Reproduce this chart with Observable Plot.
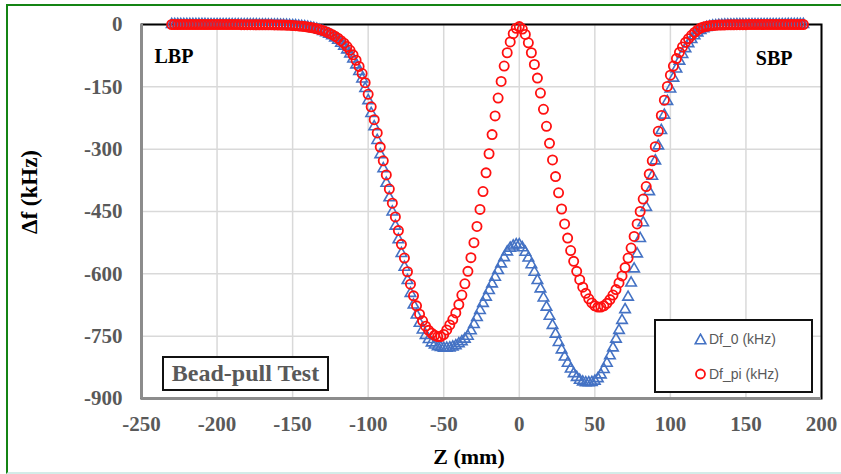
<!DOCTYPE html>
<html><head><meta charset="utf-8">
<script src="https://cdn.jsdelivr.net/npm/d3@7"></script>
<script src="https://cdn.jsdelivr.net/npm/@observablehq/plot@0.6"></script>
<style>
html,body{margin:0;padding:0;background:#fff;}
#wrap{position:relative;width:841px;height:474px;overflow:hidden;background:#fff;}
#frameBox{position:absolute;left:6px;top:4px;width:850px;height:466px;border-left:2.5px solid #148414;border-top:2.5px solid #148414;border-bottom:2px solid #d3ece8;pointer-events:none;}
#chart{position:absolute;left:0;top:0;}
.lbl{position:absolute;font-family:"Liberation Serif","Times New Roman",serif;font-weight:bold;white-space:nowrap;color:#000;}
#ylab{left:30px;top:192px;font-size:23px;transform:translate(-50%,-50%) rotate(-90deg);}
#xlab{left:469px;top:457px;font-size:22px;transform:translate(-50%,-50%);}
#bead{position:absolute;left:162px;top:356px;width:163px;height:31px;border:2px solid #111;background:#fff;font-family:"Liberation Serif",serif;font-weight:bold;font-size:24px;color:#595959;text-align:center;line-height:31px;white-space:nowrap;}
#legend{position:absolute;left:654px;top:319px;width:155px;height:70px;border:2px solid #111;background:#fff;font-family:"Liberation Sans",Arial,sans-serif;font-size:14px;color:#595959;}
.item{position:absolute;left:38px;display:flex;align-items:center;white-space:nowrap;}
.item svg{margin-right:2px;}
</style>
</head><body>
<div id="wrap">
  <div id="chart"></div>
  <div id="frameBox"></div>
  <div class="lbl" id="ylab">Δf (kHz)</div>
  <div class="lbl" id="xlab">Z (mm)</div>
  <div id="bead">Bead-pull Test</div>
  <div id="legend">
    <div class="item" style="top:10px"><svg width="13" height="12"><path d="M6.5,1.2 L11.8,10.8 L1.2,10.8 Z" fill="none" stroke="#4472C4" stroke-width="1.6"/></svg>Df_0 (kHz)</div>
    <div class="item" style="top:45px"><svg width="13" height="12"><circle cx="6.5" cy="6" r="4.5" fill="none" stroke="#FF1010" stroke-width="1.8"/></svg>Df_pi (kHz)</div>
  </div>
</div>
<script>
// Axis ticks
const xTicks = [-250, -200, -150, -100, -50, 0, 50, 100, 150, 200];
const yTicks = [0, -150, -300, -450, -600, -750, -900];

// Bead position Z (mm)
const zPos = [-230,-228,-226,-224,-222,-220,-218,-216,-214,-212,-210,-208,-206,-204,-202,-200,-198,-196,-194,-192,
-190,-188,-186,-184,-182,-180,-178,-176,-174,-172,-170,-168,-166,-164,-162,-160,-158,-156,-154,-152,
-150,-148,-146,-144,-142,-140,-138,-136,-134,-132,-130,-128,-126,-124,-122,-120,-118,-116,-114,-112,
-110,-108,-106,-104,-102,-100,-98,-96,-94,-92,-90,-88,-86,-84,-82,-80,-78,-76,-74,-72,
-70,-68,-66,-64,-62,-60,-58,-56,-54,-52,-50,-48,-46,-44,-42,-40,-38,-36,-34,-32,
-30,-28,-26,-24,-22,-20,-18,-16,-14,-12,-10,-8,-6,-4,-2,0,2,4,6,8,
10,12,14,16,18,20,22,24,26,28,30,32,34,36,38,40,42,44,46,48,
50,52,54,56,58,60,62,64,66,68,70,72,74,76,78,80,82,84,86,88,
90,92,94,96,98,100,102,104,106,108,110,112,114,116,118,120,122,124,126,128,
130,132,134,136,138,140,142,144,146,148,150,152,154,156,158,160,162,164,166,168,
170,172,174,176,178,180,182,184,186,188];

// Df_0 (kHz)
const df0 = [0,0,0,0,0,0,0,0,0,0,0,0,-0.1,-0.1,-0.1,-0.1,-0.2,-0.2,-0.2,-0.2,
-0.3,-0.3,-0.4,-0.4,-0.4,-0.5,-0.5,-0.6,-0.6,-0.7,-0.8,-0.8,-0.9,-1.0,-1.1,-1.2,-1.3,-1.5,-1.8,-2.2,
-2.6,-3.1,-3.8,-4.6,-5.5,-6.6,-8.0,-9.6,-11.5,-13.8,-16.4,-19.5,-23,-27,-32,-38,-45,-52,-61,-71,
-83,-97,-113,-131,-154,-183,-214,-246,-279,-313,-347,-382,-417,-451,-485,-518,-551,-584,-616,-647,
-675,-699,-719,-735,-748,-758,-766,-771,-775,-777,-779,-779,-778,-776,-773,-768,-763,-757,-750,-737,
-722,-705,-688,-671,-656,-640,-624,-608,-592,-576,-561,-547,-538,-533,-530,-530,-537,-548,-562,-578,
-596,-616,-636,-658,-680,-702,-724,-745,-765,-783,-800,-815,-829,-840,-849,-856,-860,-862,-862,-861,
-858,-852,-843,-830,-815,-797,-778,-757,-736,-712,-686,-656,-622,-588,-552,-515,-477,-440,-402,-365,
-328,-292,-255,-218,-185,-155,-129,-107,-88,-72,-58,-46,-36,-27,-20,-14,-10,-7,-5,-3.6,
-2.7,-2.0,-1.5,-1.2,-1.0,-0.8,-0.7,-0.6,-0.5,-0.5,-0.4,-0.4,-0.3,-0.3,-0.3,-0.2,-0.2,-0.2,-0.2,-0.1,
-0.1,-0.1,-0.1,-0.1,0,0,0,0,0,0];

// Df_pi (kHz)
const dfPi = [0,0,0,0,0,0,0,0,0,0,0,0,-0.1,-0.1,-0.1,-0.1,-0.2,-0.2,-0.2,-0.2,
-0.3,-0.3,-0.3,-0.4,-0.4,-0.4,-0.5,-0.5,-0.6,-0.6,-0.7,-0.8,-0.8,-0.9,-1.0,-1.1,-1.2,-1.4,-1.7,-2.0,
-2.4,-2.9,-3.5,-4.2,-5.0,-6.0,-7.2,-8.6,-10.3,-12.3,-14.6,-17.3,-20.5,-24,-28,-33,-39,-45,-53,-62,
-73,-86,-101,-118,-140,-168,-198,-229,-261,-295,-328,-362,-396,-430,-463,-496,-529,-562,-595,-625,
-653,-677,-697,-713,-726,-736,-743,-748,-751,-751,-746,-735,-723,-710,-694,-674,-651,-624,-594,-561,
-525,-486,-445,-402,-357,-311,-265,-220,-177,-137,-100,-68,-42,-22,-9,-5,-11,-24,-44,-68,
-96,-129,-165,-204,-245,-286,-326,-366,-405,-444,-480,-514,-544,-570,-594,-614,-632,-647,-660,-670,
-677,-680,-680,-677,-671,-662,-651,-638,-622,-605,-585,-562,-538,-510,-480,-450,-420,-390,-360,-328,
-294,-257,-219,-182,-149,-122,-100,-82,-67,-54,-43,-34,-26,-19,-13,-8.5,-5.8,-4.2,-3.1,-2.4,
-1.9,-1.5,-1.2,-1.0,-0.8,-0.7,-0.6,-0.5,-0.5,-0.4,-0.4,-0.3,-0.3,-0.3,-0.2,-0.2,-0.2,-0.2,-0.1,-0.1,
-0.1,-0.1,-0.1,0,0,0,0,0,0,0];

const blueRows = zPos.map((z, i) => ({z, v: df0[i]}));
const redRows = zPos.map((z, i) => ({z, v: dfPi[i]}));

const serif = "Liberation Serif, Times New Roman, serif";
const fmt = d => String(d);

const chart = Plot.plot({
  width: 841,
  height: 474,
  marginLeft: 141,
  marginRight: 20,
  marginTop: 24,
  marginBottom: 76,
  style: {background: "transparent", overflow: "visible"},
  x: {domain: [xTicks[0], xTicks[xTicks.length - 1]]},
  y: {domain: [yTicks[yTicks.length - 1], yTicks[0]]},
  marks: [
    Plot.gridX(xTicks, {stroke: "#d9d9d9", strokeOpacity: 1, strokeWidth: 1.5}),
    Plot.gridY(yTicks, {stroke: "#d9d9d9", strokeOpacity: 1, strokeWidth: 1.5}),
    Plot.frame({stroke: "#000", strokeWidth: 2}),
    Plot.ruleX([xTicks[0]], {stroke: "#8c8c8c", strokeWidth: 3}),
    Plot.ruleY([yTicks[yTicks.length - 1]], {stroke: "#8c8c8c", strokeWidth: 3}),
    Plot.axisX(xTicks, {tickSize: 0, tickPadding: 18, tickFormat: fmt, label: null,
      fontSize: 21, fontWeight: "bold", fontFamily: serif, color: "#595959"}),
    Plot.axisY(yTicks, {tickSize: 0, tickPadding: 19, tickFormat: fmt, label: null,
      fontSize: 21, fontWeight: "bold", fontFamily: serif, color: "#595959"}),
    Plot.dot(blueRows, {x: "z", y: "v", symbol: "triangle", r: 3.9, fill: "none",
      stroke: "#4472C4", strokeWidth: 1.6}),
    Plot.dot(redRows, {x: "z", y: "v", symbol: "circle", r: 4.6, fill: "none",
      stroke: "#FF1010", strokeWidth: 1.8}),
    Plot.text(["LBP"], {frameAnchor: "top-left", dx: 13, dy: 24, fontSize: 20,
      fontWeight: "bold", fontFamily: serif, fill: "#000"}),
    Plot.text(["SBP"], {frameAnchor: "top-right", dx: -29, dy: 26, fontSize: 20,
      fontWeight: "bold", fontFamily: serif, fill: "#000"})
  ]
});
document.getElementById("chart").appendChild(chart);
</script>
</body></html>
